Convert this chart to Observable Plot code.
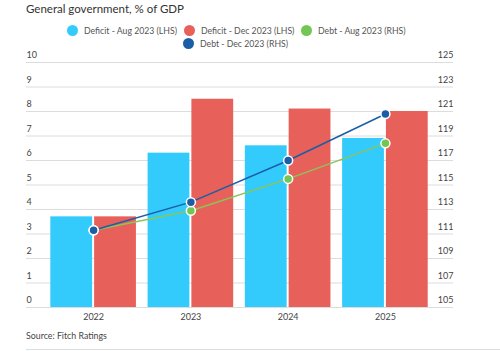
<!DOCTYPE html>
<html><head><meta charset="utf-8">
<script src="https://cdn.jsdelivr.net/npm/d3@7"></script>
<script src="https://cdn.jsdelivr.net/npm/@observablehq/plot@0.6"></script>
<style>
body{margin:0;background:#fff;font-family:Lato,"Open Sans",sans-serif;}
#wrap{position:relative;width:500px;height:351px;overflow:hidden;}
#title{position:absolute;left:26px;top:2px;font-size:11.5px;color:#333;}
.li{position:absolute;font-size:8.7px;color:#555;white-space:nowrap;line-height:12px;}
.li span{display:inline-block;width:11px;height:11px;border-radius:50%;vertical-align:middle;margin-right:6px;position:relative;top:-1px;}
#chart{position:absolute;left:0;top:50px;}
#source{position:absolute;left:26px;top:330px;font-size:8.8px;color:#444;}
#rule{position:absolute;left:26px;top:349px;width:474px;height:1px;background:#ddd;}
</style></head>
<body><div id="wrap">
<div id="title">General government, % of GDP</div>
<div id="legend"></div>
<div id="chart"></div>
<div id="source">Source: Fitch Ratings</div>
<div id="rule"></div>
</div>
<script>
const years = [2022, 2023, 2024, 2025];
const deficitAug = [3.7, 6.3, 6.6, 6.9];
const deficitDec = [3.7, 8.5, 8.1, 8.0];
const debtAug = [111.3, 112.9, 115.5, 118.4];
const debtDec = [111.3, 113.6, 117.0, 120.8];
const leftTicks = [0,1,2,3,4,5,6,7,8,9,10];
const rightTicks = [105,107,109,111,113,115,117,119,121,123,125];
const seriesNames = ["Deficit - Aug 2023 (LHS)", "Deficit - Dec 2023 (LHS)", "Debt - Aug 2023 (RHS)", "Debt - Dec 2023 (RHS)"];
const colors = {blue:"#33cbfb", red:"#e8605a", green:"#72c653", navy:"#1a5ea8"};

const toLeft = v => (v - rightTicks[0]) / 2;

const bars = years.map((y,i)=>({year:y, aug:deficitAug[i], dec:deficitDec[i]}));
const debt = years.flatMap((y,i)=>[
  {year:y, s:"aug", v:toLeft(debtAug[i])},
  {year:y, s:"dec", v:toLeft(debtDec[i])}
]);

// legend
const legendItems = [
  {name:seriesNames[0], c:colors.blue, x:67, y:25},
  {name:seriesNames[1], c:colors.red, x:184, y:25},
  {name:seriesNames[2], c:colors.green, x:301, y:25},
  {name:seriesNames[3], c:colors.navy, x:183, y:38}
];
const lg = document.getElementById("legend");
legendItems.forEach(it=>{
  const d = document.createElement("div");
  d.className="li"; d.style.left=it.x+"px"; d.style.top=it.y+"px";
  d.innerHTML = `<span style="background:${it.c}"></span>${it.name}`;
  lg.appendChild(d);
});

const chart = Plot.plot({
  width: 500, height: 275,
  marginLeft: 26, marginRight: 47, marginTop: 12, marginBottom: 18,
  style: {fontFamily: "Lato, 'Open Sans', sans-serif", fontSize: "9px", color: "#444", background:"transparent"},
  x: {type:"linear", domain:[2021.31, 2025.70], label:null},
  y: {domain:[0,10], label:null},
  marks: [
    Plot.gridY(leftTicks, {stroke:"#dcdcdc", strokeOpacity:1, strokeWidth:1}),
    Plot.rectY(bars, {x1: d=>d.year-0.44, x2: d=>d.year, y: "aug", fill: colors.blue, insetRight: 1}),
    Plot.rectY(bars, {x1: d=>d.year, x2: d=>d.year+0.44, y: "dec", fill: colors.red, insetLeft: 1}),
    Plot.line(debt.filter(d=>d.s==="aug"), {x:"year", y:"v", stroke: "#8cc45a", strokeWidth:1.5}),
    Plot.line(debt.filter(d=>d.s==="dec"), {x:"year", y:"v", stroke: colors.navy, strokeWidth:1.5}),
    Plot.dot(debt.filter(d=>d.s==="aug"), {x:"year", y:"v", r:4.5, fill: colors.green, stroke:"#fff", strokeWidth:1.5}),
    Plot.dot(debt.filter(d=>d.s==="dec"), {x:"year", y:"v", r:4.5, fill: colors.navy, stroke:"#fff", strokeWidth:1.5}),
    Plot.axisY(leftTicks, {anchor:"left", tickSize:0, tickPadding:0, textAnchor:"start", dy:-7, fill:"#444", label:null}),
    Plot.axisY(rightTicks.map(toLeft), {anchor:"right", tickSize:0, tickPadding:0, textAnchor:"end", dy:-7, fill:"#444", label:null,
      tickFormat: d => String(rightTicks[0] + 2*d)}),
    Plot.axisX(years, {tickSize:0, tickPadding:6, tickFormat: d=>String(d), fill:"#444", label:null})
  ]
});
document.getElementById("chart").appendChild(chart);
</script>
</body></html>
